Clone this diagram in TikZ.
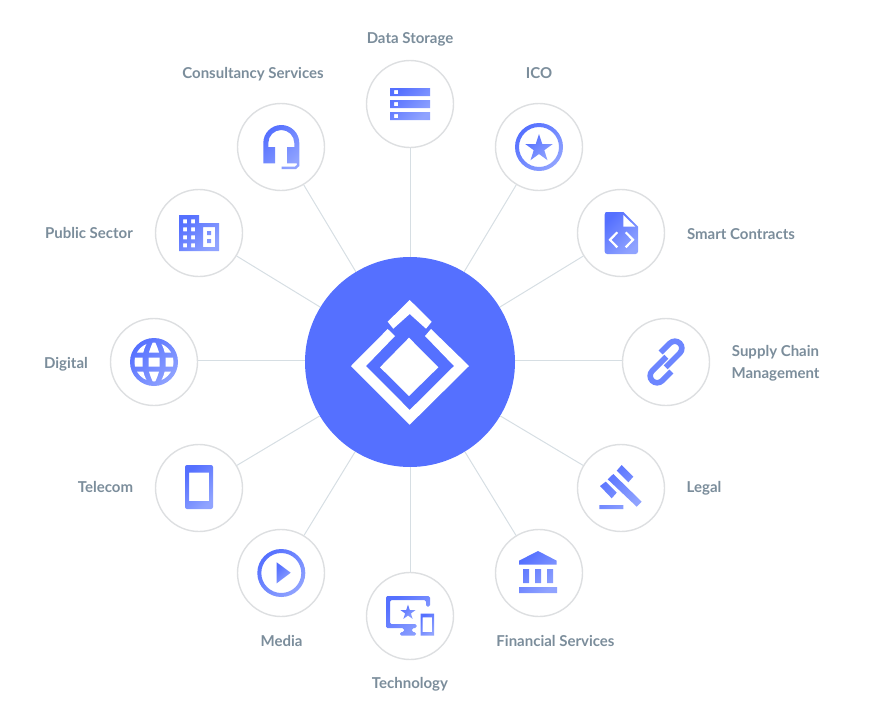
\documentclass[tikz,border=0pt]{standalone}
\usepackage{fontspec}
\setmainfont{Lato}[UprightFont=* Bold]
\usepackage{tikz}
\definecolor{hubblue}{HTML}{5570FF}
\definecolor{iconA}{HTML}{5570FF}
\definecolor{iconB}{HTML}{90A3FF}
\definecolor{iconmid}{HTML}{6D86FF}
\definecolor{linkgrey}{HTML}{D6DEE3}
\definecolor{ringgrey}{HTML}{DDDFE1}
\definecolor{labelgrey}{HTML}{7B8D9B}
\tikzset{
  hub/.style={circle, fill=hubblue, inner sep=0pt, minimum size=210pt},
  sector/.style={circle, draw=ringgrey, line width=1.4pt, fill=white, inner sep=0pt, minimum size=87pt},
  spoke/.style={draw=linkgrey, line width=1pt},
  sectorlabel/.style={text=labelgrey, font=\fontsize{15}{22}\selectfont, inner sep=0pt, align=center},
  icon/.style={top color=iconA, bottom color=iconB, shading angle=45},
}
\newcommand{\starshape}[3]{
\path[icon, shift={(#1,#2)}, scale=#3] (0,-1) -- (0.2245,-0.309) -- (0.951,-0.309) -- (0.363,0.118)
  -- (0.588,0.809) -- (0,0.382) -- (-0.588,0.809) -- (-0.363,0.118) -- (-0.951,-0.309) -- (-0.2245,-0.309) -- cycle;
}
\begin{document}
\begin{tikzpicture}[x=1pt, y=-1pt]
\useasboundingbox (0,0) rectangle (870,720);

\node[hub] (hub) at (410,362) {};
\node[sector] (storage) at (410,104) {};
\node[sector] (ico) at (539,147) {};
\node[sector] (contracts) at (621,233) {};
\node[sector] (supply) at (666,362) {};
\node[sector] (legal) at (621,488) {};
\node[sector] (financial) at (539,573) {};
\node[sector] (technology) at (410,616) {};
\node[sector] (media) at (281,573) {};
\node[sector] (telecom) at (199,488) {};
\node[sector] (digital) at (154,362) {};
\node[sector] (public) at (199,233) {};
\node[sector] (consultancy) at (281,147) {};

\draw[spoke] (hub) -- (storage);
\draw[spoke] (hub) -- (ico);
\draw[spoke] (hub) -- (contracts);
\draw[spoke] ([yshift=2pt]hub.east) -- ([yshift=2pt]supply.west);
\draw[spoke] (hub) -- (legal);
\draw[spoke] (hub) -- (financial);
\draw[spoke] (hub) -- (technology);
\draw[spoke] (hub) -- (media);
\draw[spoke] (hub) -- (telecom);
\draw[spoke] ([yshift=2pt]hub.west) -- ([yshift=2pt]digital.east);
\draw[spoke] (hub) -- (public);
\draw[spoke] (hub) -- (consultancy);

\node[sectorlabel] (storagetext) at (410,39) {Data Storage};
\node[sectorlabel] (icotext) at (539,73.5) {ICO};
\node[sectorlabel] (contractstext) at (741,234) {Smart Contracts};
\node[sectorlabel] (supplytext) at (775.5,363.5) {Supply Chain\\Management};
\node[sectorlabel] (legaltext) at (704,488.5) {Legal};
\node[sectorlabel] (financialtext) at (555.5,640.5) {Financial Services};
\node[sectorlabel] (technologytext) at (410,684.5) {Technology};
\node[sectorlabel] (mediatext) at (281.5,640.5) {Media};
\node[sectorlabel] (telecomtext) at (105.5,487) {Telecom};
\node[sectorlabel] (digitaltext) at (66,364) {Digital};
\node[sectorlabel] (publictext) at (89,233) {Public Sector};
\node[sectorlabel] (consultancytext) at (253,74) {Consultancy Services};

% logo
\fill[white] (409.7,300) -- (431.7,321.7) -- (426,328.7) -- (409.7,314) -- (393.3,328.7) -- (387.7,321.7) -- cycle;
\fill[white] (387.7,329) -- (351,366) -- (409.7,424.7) -- (469,366) -- (431,329) -- (425,336) -- (454,366)
  -- (409.7,410) -- (366,366) -- (395,336) -- cycle;
\fill[white] (409,337.7) -- (438.3,367.3) -- (409,396) -- (380,367.3) -- cycle;

% storage
\path[icon, even odd rule] (390,88) rectangle (430,96) (394,90) rectangle (398,94)
  (390,100) rectangle (430,108) (394,102) rectangle (398,106)
  (390,112) rectangle (430,120) (394,114) rectangle (398,118);

% ico
\path[icon, even odd rule] (539,147) circle[radius=24pt] (539,147) circle[radius=20pt];
\starshape{539}{148.5}{14.5}

% contracts
\path[icon] (607,212) -- (623.3,212) -- (638,226.7) -- (638,251.5) [rounded corners=2.5pt] -- (638,254) -- (604.7,254) -- (604.7,212) -- cycle;
\fill[white] (623.3,215) -- (635.3,226.7) -- (623.3,226.7) -- cycle;
\draw[white, line width=2.2pt] (617.3,232.3) -- (610,239.8) -- (617.3,247.3);
\draw[white, line width=2.2pt] (625.7,232.3) -- (633,239.8) -- (625.7,247.3);

% supply
\begin{scope}[shift={(666,362)}, rotate=45, x=1pt, y=1pt]
\draw[iconmid, line width=5.6pt] (3,10.5) -- (16,10.5) arc[start angle=90, end angle=-90, radius=7pt] -- (-4,-3.5);
\draw[iconmid, line width=5.6pt] (-3,-10.5) -- (-16,-10.5) arc[start angle=270, end angle=90, radius=7pt] -- (4,3.5);
\end{scope}

% legal
\path[icon] (621.7,465) -- (633.3,476.7) -- (628.3,482.3) -- (616.7,470.7) -- cycle
  (600,486) -- (605.7,481.7) -- (616.7,492.7) -- (611.7,498.3) -- cycle
  (613.3,474) -- (641.7,501.7) -- (636.7,506.7) -- (607.7,479.3) -- cycle
  (599.3,505) rectangle (623.3,509);

% financial
\path[icon] (538,551) -- (556.7,560.7) -- (556.7,564.7) -- (519,564.7) -- (519,560.7) -- cycle
  (523,569) rectangle (529,583) (535,569) rectangle (541,583) (547,569) rectangle (553,583)
  (519,587) rectangle (557,593);

% technology
\path[icon] [rounded corners=1.5pt] (388,596) -- (430,596) -- (430,606.7) -- (426,606.7) -- (426,600) -- (390,600) -- (390,624)
  -- (416.7,624) -- (416.7,628) -- (412,628) -- (412,632) -- (416,632) -- (416,635.5) -- (400,635.5) -- (400,632)
  -- (404,632) -- (404,628) -- (386,628) -- (386,596) -- cycle;
\starshape{408}{612.5}{8}
\path[icon, even odd rule] (420.5,613.5) rectangle (434,635.5) (422.5,617.3) rectangle (432,632);

% media
\path[icon, even odd rule] (281.3,573) circle[radius=24pt] (281.3,573) circle[radius=20pt];
\path[icon] (276.7,562.3) -- (290.7,572.7) -- (276.7,583.3) -- cycle;

% telecom
\path[icon, even odd rule] [rounded corners=2pt] (185,465) rectangle (213,509) [sharp corners] (189,472.7) rectangle (209,501);

% digital
\path[icon] (154,362) circle[radius=24pt];
\begin{scope}
\clip (154,362) circle[radius=19.5pt];
\fill[white] (148.5,357.5) rectangle (159.5,366.5) (130,357.5) rectangle (142.5,366.5) (165.5,357.5) rectangle (178,366.5);
\fill[white] (149,352.5) .. controls (150.5,347) and (152.5,343) .. (154,340) .. controls (155.5,343) and (157.5,347) .. (159,352.5) -- cycle;
\fill[white] (149,371.5) .. controls (150.5,377) and (152.5,381) .. (154,384) .. controls (155.5,381) and (157.5,377) .. (159,371.5) -- cycle;
\fill[white] (143.3,352.5) .. controls (144.5,347) and (147.5,341) .. (150.5,338) -- (130,338) -- (130,352.5) -- cycle;
\fill[white] (164.7,352.5) .. controls (163.5,347) and (160.5,341) .. (157.5,338) -- (178,338) -- (178,352.5) -- cycle;
\fill[white] (143.3,371.5) .. controls (144.5,377) and (147.5,383) .. (150.5,386) -- (130,386) -- (130,371.5) -- cycle;
\fill[white] (164.7,371.5) .. controls (163.5,377) and (160.5,383) .. (157.5,386) -- (178,386) -- (178,371.5) -- cycle;
\end{scope}

% public
\path[icon, even odd rule] (179,215) -- (199,215) -- (199,223) -- (219,223) -- (219,251) -- (179,251) -- cycle
  (183,219.3) rectangle (187,223.3) (191,219.3) rectangle (195,223.3)
  (183,227.3) rectangle (187,231.3) (191,227.3) rectangle (195,231.3)
  (183,235.3) rectangle (187,239.3) (191,235.3) rectangle (195,239.3)
  (183,243.3) rectangle (187,247.3) (191,243.3) rectangle (195,247.3)
  (203,227) rectangle (215,247) (207,231) rectangle (211,235) (207,239) rectangle (211,243);

% consultancy
\path[icon] (263.3,143) arc[start angle=180, end angle=0, radius=18pt] -- (299.3,163.3) -- (287,163.3) -- (287,147) -- (294.3,147)
  -- (294.3,143) arc[start angle=0, end angle=180, radius=13pt] -- (268.3,147) -- (275,147) -- (275,163.3) -- (263.3,163.3) -- cycle
  (299.3,163.3) -- (299.3,166) -- (296,169) -- (281.7,169) -- (281.7,166.5) -- (295,166.5) -- (296.8,165) -- (296.8,163.3) -- cycle;

\end{tikzpicture}
\end{document}
